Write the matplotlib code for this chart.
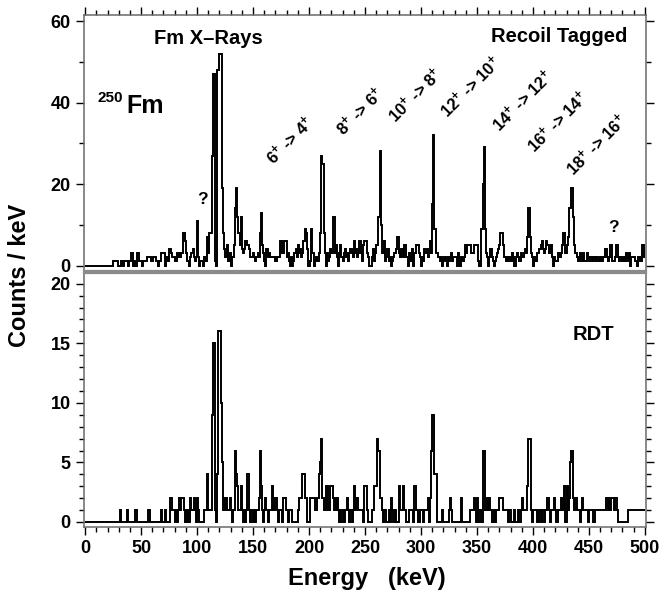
import numpy as np
import matplotlib
matplotlib.use("Agg")
import matplotlib.pyplot as plt
from matplotlib.ticker import MultipleLocator

plt.rcParams['font.family'] = ['Liberation Sans', 'DejaVu Sans']
plt.rcParams['font.weight'] = 'bold'
plt.rcParams['mathtext.fontset'] = 'custom'
plt.rcParams['mathtext.rm'] = 'Liberation Sans:bold'
plt.rcParams['mathtext.it'] = 'Liberation Sans:bold'
plt.rcParams['mathtext.bf'] = 'Liberation Sans:bold'
plt.rcParams['mathtext.default'] = 'rm'

# Energy bin edges (1 keV bins, 0..500 keV)
energy_edges = np.arange(0, 501)

# Recoil tagged spectrum (counts per keV), rows of 10 keV starting at 0 keV
recoil_tagged = [
    0, 0, 0, 0, 0, 0, 0, 0, 0, 0,
    0, 0, 0, 0, 0, 0, 0, 0, 0, 0,
    0, 0, 0, 0, 0, 1, 1, 1, 1, 0,
    0, 0, 1, 1, 0, 1, 1, 1, 0, 1,
    1, 3, 3, 0, 1, 0, 3, 3, 1, 1,
    1, 0, 1, 1, 1, 2, 2, 2, 2, 1,
    1, 2, 2, 1, 1, 0, 1, 1, 3, 3,
    3, 0, 2, 2, 1, 4, 4, 3, 2, 2,
    1, 1, 3, 2, 3, 2, 3, 8, 8, 6,
    3, 1, 1, 0, 2, 3, 4, 2, 1, 2,
    11, 2, 0, 1, 1, 0, 2, 1, 1, 7,
    3, 8, 8, 27, 47, 47, 1, 0, 48, 48,
    52, 52, 19, 8, 4, 2, 2, 5, 1, 3,
    0, 2, 2, 5, 14, 19, 12, 8, 5, 12,
    4, 3, 4, 6, 6, 5, 4, 2, 2, 2,
    3, 2, 1, 2, 3, 2, 8, 13, 5, 3,
    1, 0, 4, 2, 3, 2, 2, 2, 2, 2,
    1, 2, 2, 2, 6, 6, 3, 3, 6, 6,
    2, 3, 1, 0, 2, 0, 1, 3, 4, 2,
    5, 3, 4, 2, 3, 6, 9, 8, 4, 0,
    0, 1, 9, 3, 0, 1, 2, 1, 1, 3,
    8, 27, 25, 8, 3, 0, 3, 1, 2, 4,
    3, 12, 12, 3, 5, 2, 0, 3, 5, 2,
    1, 3, 4, 2, 3, 1, 3, 4, 3, 2,
    6, 3, 4, 2, 3, 6, 3, 1, 5, 6,
    6, 6, 3, 2, 0, 0, 2, 4, 1, 3,
    5, 5, 12, 28, 10, 3, 3, 6, 1, 2,
    4, 1, 2, 0, 1, 2, 3, 3, 4, 7,
    3, 2, 4, 4, 2, 5, 5, 2, 0, 3,
    2, 1, 4, 0, 3, 3, 5, 5, 3, 2,
    0, 2, 1, 4, 3, 4, 2, 3, 6, 3,
    15, 32, 9, 3, 3, 2, 2, 1, 2, 0,
    1, 2, 1, 0, 2, 1, 2, 3, 1, 2,
    2, 2, 0, 3, 1, 0, 2, 1, 2, 5,
    3, 5, 5, 5, 5, 3, 3, 5, 5, 5,
    5, 1, 0, 0, 9, 20, 29, 9, 3, 2,
    0, 2, 4, 2, 1, 0, 1, 2, 3, 4,
    5, 8, 8, 5, 2, 2, 1, 2, 1, 2,
    1, 3, 2, 0, 0, 2, 3, 2, 1, 3,
    2, 2, 3, 4, 3, 7, 14, 7, 3, 2,
    0, 2, 1, 1, 3, 4, 4, 5, 6, 4,
    3, 4, 6, 5, 3, 4, 5, 2, 0, 2,
    1, 1, 3, 3, 2, 3, 5, 8, 8, 3,
    5, 7, 14, 14, 19, 19, 12, 5, 3, 2,
    1, 1, 3, 2, 1, 3, 1, 1, 3, 2,
    1, 2, 2, 1, 2, 1, 2, 2, 1, 1,
    2, 1, 1, 2, 4, 4, 2, 1, 2, 5,
    5, 1, 1, 2, 5, 5, 2, 1, 2, 2,
    1, 2, 1, 3, 2, 1, 3, 0, 2, 2,
    2, 1, 1, 0, 2, 2, 1, 5, 5, 2,
]

# RDT spectrum (counts per keV), rows of 10 keV starting at 0 keV
rdt = [
    0, 0, 0, 0, 0, 0, 0, 0, 0, 0,
    0, 0, 0, 0, 0, 0, 0, 0, 0, 0,
    0, 0, 0, 0, 0, 0, 0, 0, 0, 0,
    0, 1, 0, 0, 0, 0, 0, 1, 0, 0,
    0, 0, 0, 0, 0, 1, 0, 0, 0, 0,
    0, 0, 0, 0, 0, 0, 1, 1, 0, 0,
    0, 0, 0, 0, 0, 0, 0, 0, 1, 0,
    0, 1, 0, 0, 0, 0, 2, 2, 1, 1,
    0, 1, 0, 1, 2, 1, 2, 2, 1, 0,
    1, 0, 1, 0, 2, 1, 1, 2, 1, 0,
    2, 1, 0, 0, 0, 0, 1, 1, 1, 4,
    1, 1, 1, 9, 15, 15, 1, 0, 4, 16,
    16, 10, 5, 1, 2, 1, 2, 1, 1, 2,
    1, 0, 1, 1, 6, 4, 3, 1, 1, 3,
    1, 0, 1, 0, 1, 4, 1, 0, 1, 1,
    0, 1, 0, 1, 1, 2, 6, 3, 1, 0,
    1, 2, 1, 0, 1, 1, 1, 3, 1, 1,
    2, 1, 0, 1, 1, 1, 0, 2, 2, 1,
    1, 0, 1, 1, 1, 0, 0, 0, 0, 0,
    1, 2, 2, 2, 4, 4, 2, 2, 0, 0,
    0, 2, 2, 2, 2, 1, 1, 2, 2, 4,
    5, 7, 2, 1, 1, 3, 3, 1, 1, 3,
    3, 2, 1, 2, 1, 2, 1, 0, 1, 0,
    1, 0, 1, 1, 2, 1, 0, 1, 0, 1,
    3, 1, 2, 2, 1, 1, 1, 1, 0, 3,
    3, 3, 1, 0, 0, 0, 1, 1, 3, 3,
    3, 7, 6, 2, 2, 1, 0, 1, 1, 0,
    0, 1, 0, 2, 1, 0, 0, 1, 0, 0,
    3, 1, 1, 1, 3, 1, 1, 0, 0, 1,
    1, 1, 1, 0, 3, 3, 1, 0, 0, 1,
    1, 1, 0, 1, 1, 1, 2, 0, 2, 6,
    9, 9, 4, 4, 0, 0, 0, 0, 0, 1,
    0, 0, 0, 0, 0, 1, 2, 1, 0, 0,
    0, 0, 0, 0, 0, 0, 2, 0, 0, 0,
    0, 0, 0, 0, 1, 1, 1, 2, 1, 0,
    2, 0, 1, 1, 0, 6, 6, 1, 1, 2,
    1, 2, 1, 0, 0, 1, 0, 1, 1, 1,
    2, 2, 2, 1, 1, 1, 1, 1, 0, 1,
    0, 0, 0, 1, 0, 0, 0, 1, 0, 1,
    2, 1, 1, 1, 1, 3, 7, 7, 1, 0,
    1, 1, 1, 1, 0, 1, 1, 0, 1, 1,
    0, 1, 1, 2, 1, 0, 1, 1, 1, 2,
    1, 0, 1, 1, 1, 2, 1, 1, 3, 0,
    3, 1, 2, 5, 6, 6, 2, 1, 2, 1,
    1, 1, 0, 1, 2, 1, 1, 1, 1, 0,
    1, 1, 1, 1, 0, 1, 1, 1, 1, 1,
    1, 1, 1, 1, 1, 2, 2, 1, 2, 1,
    2, 2, 1, 2, 2, 1, 0, 0, 0, 0,
    0, 0, 0, 0, 0, 1, 1, 1, 1, 1,
    1, 1, 1, 1, 1, 1, 1, 1, 1, 1,
]

transition_labels = [
    "6$^{+}$ -> 4$^{+}$", "8$^{+}$ -> 6$^{+}$", "10$^{+}$ -> 8$^{+}$",
    "12$^{+}$ -> 10$^{+}$", "14$^{+}$ -> 12$^{+}$", "16$^{+}$ -> 14$^{+}$",
    "18$^{+}$ -> 16$^{+}$",
]
x_ticks = [0, 50, 100, 150, 200, 250, 300, 350, 400, 450, 500]
top_yticks = [0, 20, 40, 60]
bottom_yticks = [0, 5, 10, 15, 20]

W, H = 661, 604
fig = plt.figure(figsize=(W / 100, H / 100), dpi=100)

def fx(px):
    return px / W

def fy(py):
    return 1 - py / H

ax1 = fig.add_axes([fx(84), fy(271), fx(646) - fx(84), fy(15) - fy(271)])
ax2 = fig.add_axes([fx(84), fy(527), fx(646) - fx(84), fy(273) - fy(527)])

lw_hist = 1.4
ax1.stairs(recoil_tagged, energy_edges, baseline=None, color='black', lw=lw_hist)
ax2.stairs(rdt, energy_edges, baseline=None, color='black', lw=lw_hist)

spine_col = '#6a6a6a'
for ax in (ax1, ax2):
    ax.set_xlim(-1, 501)
    for s in ax.spines.values():
        s.set_color(spine_col)
        s.set_linewidth(1.1)
    ax.tick_params(which='both', direction='out', width=1.0, color='black',
                   labelsize=13)
    ax.tick_params(which='major', length=6)
    ax.tick_params(which='minor', length=3.5)
    ax.xaxis.set_minor_locator(MultipleLocator(10))
    ax.set_xticks(x_ticks)

ax1.spines['bottom'].set_color('#8a8a8a')
ax1.spines['bottom'].set_linewidth(1.6)
ax2.spines['top'].set_color('#8a8a8a')
ax2.spines['top'].set_linewidth(1.6)

# top panel
ax1.set_ylim(-1.35, 61.5)
ax1.set_yticks(top_yticks)
ax1.yaxis.set_minor_locator(MultipleLocator(10))
ax1.tick_params(axis='x', which='both', top=True, bottom=False,
                labeltop=False, labelbottom=False)
ax1.tick_params(axis='y', which='both', left=True, right=True,
                labelleft=True, labelright=False)

# bottom panel
ax2.set_ylim(-0.42, 20.9)
ax2.set_yticks(bottom_yticks)
ax2.yaxis.set_minor_locator(MultipleLocator(1))
ax2.tick_params(axis='x', which='both', top=False, bottom=True,
                labeltop=False, labelbottom=True)
ax2.tick_params(axis='y', which='both', left=True, right=True,
                labelleft=True, labelright=False)

for ax in (ax1, ax2):
    for lab in ax.get_xticklabels() + ax.get_yticklabels():
        lab.set_fontweight('bold')

# axis titles
fig.text(fx(20), fy(275), "Counts / keV", rotation=90, ha='center', va='center',
         fontsize=17, fontweight='bold')
fig.text(fx(367), fy(578), "Energy   (keV)", ha='center', va='center',
         fontsize=17, fontweight='bold')

# annotations
fig.text(fx(208), fy(39), "Fm X\u2013Rays", ha='center', va='center',
         fontsize=14.5, fontweight='bold')
fig.text(fx(627), fy(36), "Recoil Tagged", ha='right', va='center',
         fontsize=14.5, fontweight='bold')
fig.text(fx(123), fy(98.5), "250", ha='right', va='center',
         fontsize=11, fontweight='bold')
fig.text(fx(126), fy(106), "Fm", ha='left', va='center',
         fontsize=18, fontweight='bold')
fig.text(fx(593), fy(334), "RDT", ha='center', va='center',
         fontsize=14.5, fontweight='bold')
fig.text(fx(202), fy(200), "?", ha='center', va='center',
         fontsize=12.5, fontweight='bold')
fig.text(fx(613), fy(228), "?", ha='center', va='center',
         fontsize=12.5, fontweight='bold')

label_centers = [(290, 140), (360, 111), (415, 95), (471, 87),
                 (523, 101), (558, 122), (597, 145)]
for lab, (cx, cy) in zip(transition_labels, label_centers):
    fig.text(fx(cx), fy(cy), lab, rotation=45, rotation_mode='anchor',
             ha='center', va='center', fontsize=12, fontweight='bold')

fig.savefig("out.png", dpi=100)
